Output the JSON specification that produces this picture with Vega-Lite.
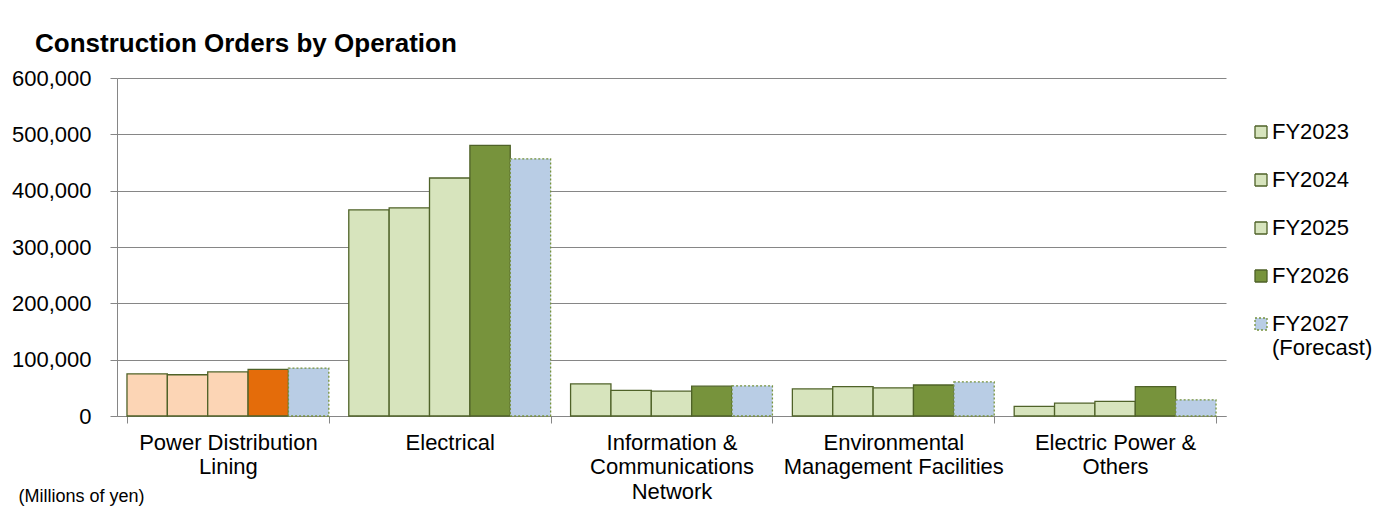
{
  "$schema": "https://vega.github.io/schema/vega-lite/v6.json",
  "width": 1109,
  "height": 338,
  "autosize": {"type": "none"},
  "padding": {"left": 117, "top": 78, "right": 172, "bottom": 90},
  "background": "white",
  "title": {
    "text": "Construction Orders by Operation",
    "anchor": "start",
    "frame": "group",
    "font": "Liberation Sans",
    "fontSize": 26,
    "fontWeight": "bold",
    "color": "black",
    "dx": -82,
    "dy": 25,
    "baseline": "alphabetic",
    "offset": 14
  },
  "config": {
    "view": {"stroke": null},
    "font": "Liberation Sans"
  },
  "data": {
    "values": [
      {"operation": "Power Distribution Lining", "year": "FY2023", "orders": 74800},
      {"operation": "Power Distribution Lining", "year": "FY2024", "orders": 73200},
      {"operation": "Power Distribution Lining", "year": "FY2025", "orders": 78300},
      {"operation": "Power Distribution Lining", "year": "FY2026", "orders": 82600},
      {"operation": "Power Distribution Lining", "year": "FY2027 (Forecast)", "orders": 85000},
      {"operation": "Electrical", "year": "FY2023", "orders": 366000},
      {"operation": "Electrical", "year": "FY2024", "orders": 369500},
      {"operation": "Electrical", "year": "FY2025", "orders": 422500},
      {"operation": "Electrical", "year": "FY2026", "orders": 480500},
      {"operation": "Electrical", "year": "FY2027 (Forecast)", "orders": 456500},
      {"operation": "Information & Communications Network", "year": "FY2023", "orders": 57000},
      {"operation": "Information & Communications Network", "year": "FY2024", "orders": 45500},
      {"operation": "Information & Communications Network", "year": "FY2025", "orders": 44000},
      {"operation": "Information & Communications Network", "year": "FY2026", "orders": 53000},
      {"operation": "Information & Communications Network", "year": "FY2027 (Forecast)", "orders": 53500},
      {"operation": "Environmental Management Facilities", "year": "FY2023", "orders": 48000},
      {"operation": "Environmental Management Facilities", "year": "FY2024", "orders": 52000},
      {"operation": "Environmental Management Facilities", "year": "FY2025", "orders": 50000},
      {"operation": "Environmental Management Facilities", "year": "FY2026", "orders": 55000},
      {"operation": "Environmental Management Facilities", "year": "FY2027 (Forecast)", "orders": 60500},
      {"operation": "Electric Power & Others", "year": "FY2023", "orders": 17000},
      {"operation": "Electric Power & Others", "year": "FY2024", "orders": 22700},
      {"operation": "Electric Power & Others", "year": "FY2025", "orders": 26000},
      {"operation": "Electric Power & Others", "year": "FY2026", "orders": 52000},
      {"operation": "Electric Power & Others", "year": "FY2027 (Forecast)", "orders": 28700}
    ]
  },
  "mark": {"type": "bar", "strokeWidth": 1.3},
  "encoding": {
    "x": {
      "field": "operation",
      "type": "nominal",
      "sort": ["Power Distribution Lining", "Electrical", "Information & Communications Network", "Environmental Management Facilities", "Electric Power & Others"],
      "scale": {"paddingInner": 0.09, "paddingOuter": 0.045},
      "axis": {
        "title": null,
        "labelAngle": 0,
        "labelFontSize": 22,
        "labelColor": "black",
        "labelBaseline": "top",
        "labelLineHeight": 24.5,
        "labelPadding": 9,
        "labelLimit": 0,
        "labelOverlap": false,
        "tickBand": "extent",
        "tickSize": 7,
        "tickColor": "#868686",
        "domainColor": "#868686",
        "labelExpr": "datum.label == 'Power Distribution Lining' ? ['Power Distribution', 'Lining'] : datum.label == 'Information & Communications Network' ? ['Information &', 'Communications', 'Network'] : datum.label == 'Environmental Management Facilities' ? ['Environmental', 'Management Facilities'] : datum.label == 'Electric Power & Others' ? ['Electric Power &', 'Others'] : datum.label"
      }
    },
    "xOffset": {
      "field": "year",
      "type": "nominal",
      "sort": ["FY2023", "FY2024", "FY2025", "FY2026", "FY2027 (Forecast)"],
      "scale": {"paddingInner": 0, "paddingOuter": 0}
    },
    "y": {
      "field": "orders",
      "type": "quantitative",
      "scale": {"domain": [0, 600000]},
      "axis": {
        "values": [0, 100000, 200000, 300000, 400000, 500000, 600000],
        "format": ",d",
        "labelFontSize": 22,
        "labelColor": "black",
        "labelPadding": 19,
        "tickSize": 7,
        "tickColor": "#868686",
        "domainColor": "#868686",
        "gridColor": "#868686",
        "title": "(Millions of yen)",
        "titleAngle": 0,
        "titleAlign": "left",
        "titleBaseline": "alphabetic",
        "titleX": -99,
        "titleY": 423,
        "titleFontSize": 18,
        "titleFontWeight": "normal",
        "titleColor": "black"
      }
    },
    "fill": {
      "field": "year",
      "type": "nominal",
      "scale": {
        "domain": ["FY2023", "FY2024", "FY2025", "FY2026", "FY2027 (Forecast)"],
        "range": ["#D7E4BD", "#D7E4BD", "#D7E4BD", "#77933C", "#B9CDE5"]
      },
      "condition": [
        {"test": "datum.operation == 'Power Distribution Lining' && datum.year == 'FY2026'", "value": "#E46C0A"},
        {"test": "datum.operation == 'Power Distribution Lining' && datum.year != 'FY2027 (Forecast)'", "value": "#FCD5B5"}
      ],
      "legend": {
        "title": null,
        "orient": "none",
        "legendX": 1133,
        "legendY": 43,
        "padding": 0,
        "symbolType": "square",
        "symbolSize": 144,
        "symbolStrokeWidth": 1.3,
        "labelFontSize": 22,
        "labelColor": "black",
        "labelOffset": 0,
        "labelLimit": 0,
        "rowPadding": 26,
        "labelExpr": "datum.label == 'FY2027 (Forecast)' ? ['FY2027', '(Forecast)'] : datum.label"
      }
    },
    "stroke": {
      "field": "year",
      "type": "nominal",
      "scale": {
        "domain": ["FY2023", "FY2024", "FY2025", "FY2026", "FY2027 (Forecast)"],
        "range": ["#4F6228", "#4F6228", "#4F6228", "#4F6228", "#77933C"]
      },
      "legend": {
        "title": null,
        "orient": "none",
        "legendX": 1133,
        "legendY": 43,
        "padding": 0,
        "symbolType": "square",
        "symbolSize": 144,
        "symbolStrokeWidth": 1.3,
        "labelFontSize": 22,
        "labelColor": "black",
        "labelOffset": 0,
        "labelLimit": 0,
        "rowPadding": 26,
        "labelExpr": "datum.label == 'FY2027 (Forecast)' ? ['FY2027', '(Forecast)'] : datum.label"
      }
    },
    "strokeDash": {
      "field": "year",
      "type": "nominal",
      "scale": {
        "domain": ["FY2023", "FY2024", "FY2025", "FY2026", "FY2027 (Forecast)"],
        "range": [[1, 0], [1, 0], [1, 0], [1, 0], [2, 2]]
      },
      "legend": {
        "title": null,
        "orient": "none",
        "legendX": 1133,
        "legendY": 43,
        "padding": 0,
        "symbolType": "square",
        "symbolSize": 144,
        "symbolStrokeWidth": 1.3,
        "labelFontSize": 22,
        "labelColor": "black",
        "labelOffset": 0,
        "labelLimit": 0,
        "rowPadding": 26,
        "labelExpr": "datum.label == 'FY2027 (Forecast)' ? ['FY2027', '(Forecast)'] : datum.label"
      }
    }
  }
}
